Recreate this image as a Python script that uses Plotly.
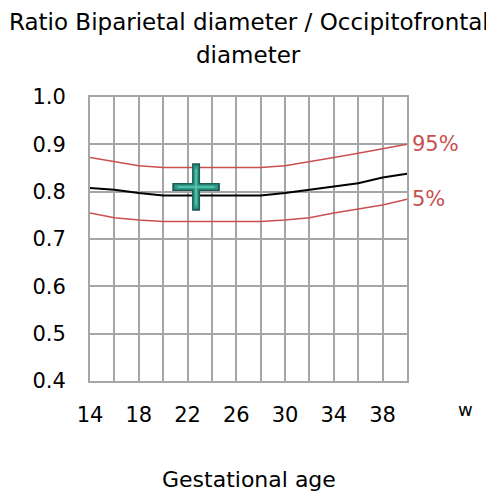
import plotly.graph_objects as go

weeks = [14, 16, 18, 20, 22, 24, 26, 28, 30, 32, 34, 36, 38, 40]
p95 = [0.872, 0.864, 0.855, 0.851, 0.851, 0.851, 0.851, 0.851, 0.855, 0.863, 0.872, 0.881, 0.890, 0.900]
mean = [0.808, 0.804, 0.797, 0.792, 0.792, 0.792, 0.792, 0.792, 0.797, 0.804, 0.811, 0.818, 0.830, 0.838]
p5 = [0.755, 0.745, 0.740, 0.737, 0.737, 0.737, 0.737, 0.737, 0.740, 0.745, 0.755, 0.764, 0.772, 0.784]
patient_week = [22.7]
patient_ratio = [0.81]
x_ticks = [14, 16, 18, 20, 22, 24, 26, 28, 30, 32, 34, 36, 38, 40]
x_ticktext = ["14", "", "18", "", "22", "", "26", "", "30", "", "34", "", "38", ""]
y_ticks = [0.4, 0.5, 0.6, 0.7, 0.8, 0.9, 1.0]

RED = "#C9504F"
FONT = "DejaVu Sans"
GRID = "#A6A6A6"

fig = go.Figure()
fig.add_trace(go.Scatter(x=weeks, y=p95, mode="lines", line=dict(color=RED, width=1.5), hoverinfo="skip"))
fig.add_trace(go.Scatter(x=weeks, y=p5, mode="lines", line=dict(color=RED, width=1.5), hoverinfo="skip"))
fig.add_trace(go.Scatter(x=weeks, y=mean, mode="lines", line=dict(color="black", width=2), hoverinfo="skip"))
# patient cross marker (outline + fill + highlight)
fig.add_trace(go.Scatter(x=patient_week, y=patient_ratio, mode="markers",
                         marker=dict(symbol="cross-thin", size=34, line=dict(color="#1E5C53", width=8))))
fig.add_trace(go.Scatter(x=patient_week, y=patient_ratio, mode="markers",
                         marker=dict(symbol="cross-thin", size=31, line=dict(color="#2E9C89", width=5))))
fig.add_trace(go.Scatter(x=patient_week, y=patient_ratio, mode="markers",
                         marker=dict(symbol="cross-thin", size=26, line=dict(color="#5CC8B3", width=1.5))))

fig.add_annotation(x=weeks[-1], y=p95[-1], text="95%", xanchor="left", yanchor="middle", xshift=3,
                   showarrow=False, font=dict(family=FONT, size=21, color=RED))
fig.add_annotation(x=weeks[-1], y=p5[-1], text="5%", xanchor="left", yanchor="middle", xshift=3,
                   showarrow=False, font=dict(family=FONT, size=21, color=RED))
fig.add_annotation(xref="paper", yref="paper", x=1.183, y=-0.1, text="w", xanchor="center", yanchor="middle",
                   showarrow=False, font=dict(family=FONT, size=18, color="black"))
fig.add_annotation(xref="paper", yref="paper", x=0.5, y=-0.348, text="Gestational age", xanchor="center",
                   yanchor="middle", showarrow=False, font=dict(family=FONT, size=22, color="black"))
fig.add_annotation(xref="paper", yref="paper", x=0.5, y=1.264, text="Ratio Biparietal diameter / Occipitofrontal",
                   xanchor="center", yanchor="middle", showarrow=False, font=dict(family=FONT, size=23, color="black"))
fig.add_annotation(xref="paper", yref="paper", x=0.5, y=1.148, text="diameter",
                   xanchor="center", yanchor="middle", showarrow=False, font=dict(family=FONT, size=23, color="black"))

fig.update_layout(
    width=486, height=491,
    margin=dict(l=82, r=87, t=89, b=118),
    paper_bgcolor="white", plot_bgcolor="white",
    showlegend=False,
    font=dict(family=FONT, size=21, color="black"),
)
fig.update_xaxes(range=[14, 40], tickvals=x_ticks, ticktext=x_ticktext, showgrid=True, gridcolor=GRID, gridwidth=2,
                 showline=True, linecolor=GRID, linewidth=2, mirror=True, zeroline=False,
                 ticks="outside", ticklen=14, tickcolor="rgba(0,0,0,0)", tickfont=dict(family=FONT, size=21))
fig.update_yaxes(range=[0.4, 1.0], tickvals=y_ticks, tickformat=".1f", showgrid=True, gridcolor=GRID, gridwidth=2,
                 showline=True, linecolor=GRID, linewidth=2, mirror=True, zeroline=False,
                 ticks="outside", ticklen=18, tickcolor="rgba(0,0,0,0)", tickfont=dict(family=FONT, size=21))

fig.write_html("out.html")
